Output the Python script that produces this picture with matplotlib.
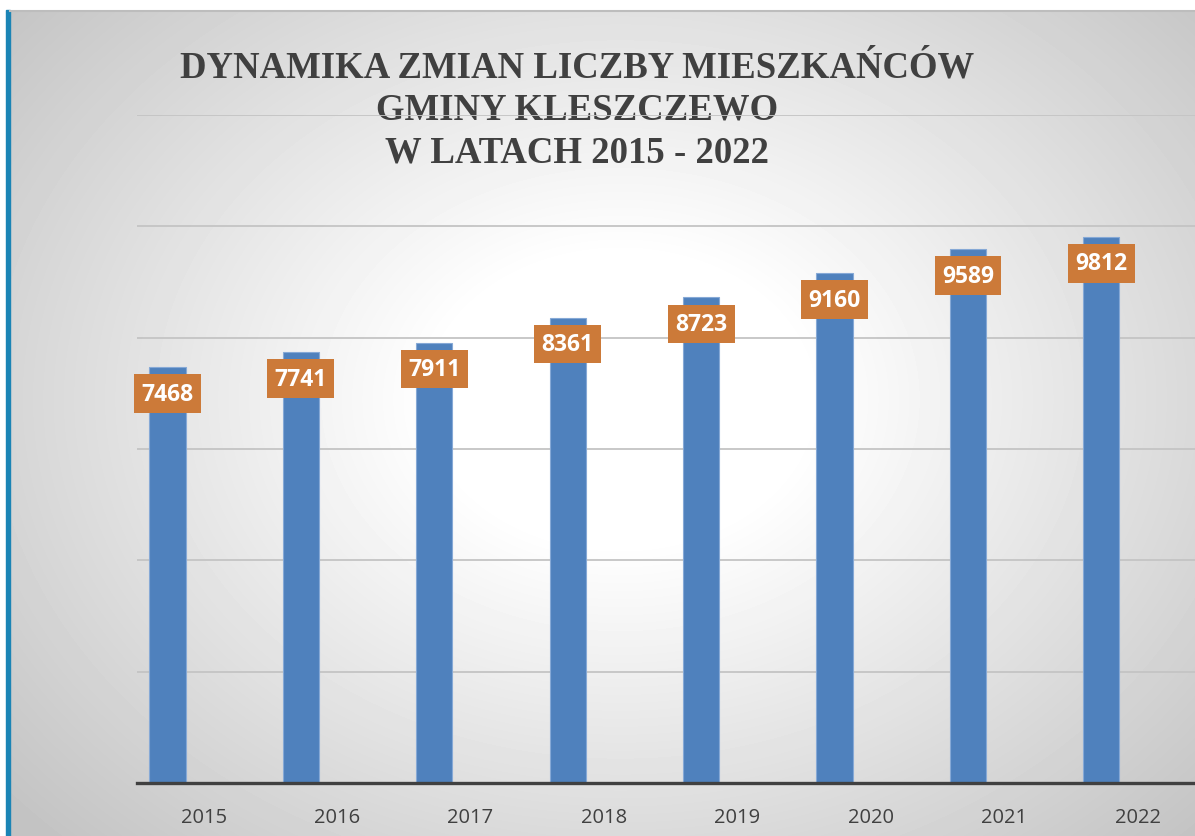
import numpy as np
import matplotlib
matplotlib.use("Agg")
import matplotlib.pyplot as plt
from matplotlib.patches import Rectangle

###
### Data
###
years      = ['2015', '2016', '2017', '2018', '2019', '2020', '2021', '2022']
population = [7468, 7741, 7911, 8361, 8723, 9160, 9589, 9812]
title_lines = ["DYNAMIKA ZMIAN LICZBY MIESZKAŃCÓW",
               "GMINY KLESZCZEWO",
               "W LATACH 2015 - 2022"]

###
### Figure and background (pixel coordinates)
###
W, H = 1195, 837
fig = plt.figure(figsize=(W/100, H/100), dpi=100, facecolor='white')

bg = fig.add_axes([0, 0, 1, 1])
bg.set_xlim(0, W)
bg.set_ylim(H, 0)
bg.axis('off')

# radial grey gradient, white in the middle of the chart
xx, yy = np.meshgrid(np.arange(6, W), np.arange(11, H))
r = np.sqrt(((xx - 620)/620.0)**2 + ((yy - 400)/480.0)**2)
g = 255 - 60*np.clip(r - 0.3, 0, None)
g = np.clip(g, 195, 255)/255.0
bg.imshow(g, cmap='gray', vmin=0, vmax=1, extent=(6, W, H, 11),
          aspect='auto', interpolation='bilinear', zorder=0)

# blue stripe on the left and grey line on top
bg.add_patch(Rectangle((6, 11), 4, H - 11, color='#1B84B5', zorder=2))
bg.plot([10, W], [11.5, 11.5], color='#BDBDBD', lw=1.5, zorder=2)

# title
for i, line in enumerate(title_lines):
    bg.text(577, 77 + 42.5*i, line,
            ha='center', va='baseline',
            fontsize=26.5, fontweight='bold',
            family='Liberation Serif', color='#404040')

###
### Bar chart
###
ax = fig.add_axes([137/W, 53/H, 1067.2/W, 668/H])
ax.patch.set_alpha(0)

x = np.arange(len(years))
ax.bar(x - 0.271, population, width=0.272,
       color='#4F81BD', edgecolor='#86A9D6', linewidth=0.8, zorder=2)

for xi, v in zip(x, population):
    ax.annotate(str(v), xy=(xi - 0.271, v), xytext=(0, -26.5),
                textcoords='offset pixels',
                ha='center', va='center',
                fontsize=16.5, fontweight='bold',
                family='Open Sans', color='white', zorder=4,
                bbox=dict(boxstyle='square,pad=0.32',
                          facecolor='#CC7A39', edgecolor='none'))

ax.set_xlim(-0.5, 7.5)
ax.set_ylim(0, 12000)
ax.set_yticks(np.arange(0, 12001, 2000))
ax.set_yticklabels([])
ax.tick_params(axis='y', length=0)
ax.grid(axis='y', color='#C4C4C4', linewidth=1.3)
ax.set_axisbelow(True)

ax.set_xticks(x)
ax.set_xticklabels(years, fontsize=14.5, family='Open Sans', color='#404040')
ax.tick_params(axis='x', length=0, pad=17.5)

for side in ['left', 'right', 'top']:
    ax.spines[side].set_visible(False)
ax.spines['bottom'].set_color('#404040')
ax.spines['bottom'].set_linewidth(2.4)
ax.spines['bottom'].set_zorder(3)

plt.savefig('out.png', dpi=100)
